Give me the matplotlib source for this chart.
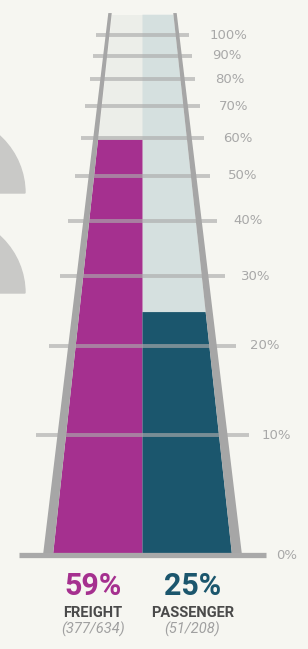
import numpy as np
import matplotlib.pyplot as plt
from matplotlib.patches import Polygon, Wedge

# data
modes = ['FREIGHT', 'PASSENGER']
hits = [377, 51]
totals = [634, 208]
bar_colors = ['#a5308f', '#1b566d']
tick_values = list(range(0, 101, 10))
tick_labels = ['%d%%' % t for t in tick_values]

pct = [100.0 * h / t for h, t in zip(hits, totals)]

# perspective: screen height goes like 1/(v + C)
C = 58.8


def fwd(v):
    return -1.0 / (np.asarray(v, dtype=float) + C)


def inv(u):
    return -1.0 / np.asarray(u, dtype=float) - C


def shrink(v):
    return C / (v + C)


CX = 142.5
RAIL_OUT, RAIL_IN = 99.5, 89.5
TIE = 125
TOP = 111.3
BG = '#f6f6f1'
W, H = 308, 649


def px(x, y):
    return x / W, 1 - y / H


fig = plt.figure(figsize=(W / 100, H / 100), dpi=100)
fig.patch.set_facecolor(BG)
ax = fig.add_axes([0, 0, 1, 1])
ax.set_facecolor(BG)
ax.set_yscale('function', functions=(fwd, inv))
ax.set_xlim(0, W)
ax.set_ylim(-6.0, 120.55)
ax.axis('off')

# grey shapes cut off at the left edge
for yc in [193, 293]:
    fig.patches.append(Wedge(((-52) / 100, (H - yc) / 100), 0.77, 0, 180,
                             transform=fig.dpi_scale_trans,
                             color='#c9c9c7', zorder=0))

# track background, two halves
s0, st = shrink(0), shrink(TOP)
ax.add_patch(Polygon([(CX - RAIL_IN * s0, 0), (CX, 0), (CX, TOP),
                      (CX - RAIL_IN * st, TOP)], closed=True,
                     color='#eceee9', lw=0, zorder=1))
ax.add_patch(Polygon([(CX, 0), (CX + RAIL_IN * s0, 0),
                      (CX + RAIL_IN * st, TOP), (CX, TOP)], closed=True,
                     color='#d5e0df', lw=0, zorder=1))

# bars
for i, (p, col) in enumerate(zip(pct, bar_colors)):
    sign = -1 if i == 0 else 1
    ax.add_patch(Polygon([(CX, 0), (CX + sign * RAIL_IN * s0, 0),
                          (CX + sign * RAIL_IN * shrink(p), p), (CX, p)],
                         closed=True, color=col, lw=0, zorder=2))

# ties
for v in tick_values[1:]:
    hw = TIE * shrink(v)
    ax.plot([CX - hw, CX + hw], [v, v], color='#ababab', alpha=0.65,
            lw=2.8, solid_capstyle='butt', zorder=3)
ax.plot([CX - 123.5, CX + 123.5], [0, 0], color='#a9a9a9', lw=3.8,
        solid_capstyle='butt', zorder=5)

# rails
for sign in [-1, 1]:
    ax.add_patch(Polygon([(CX + sign * RAIL_OUT * s0, 0),
                          (CX + sign * RAIL_IN * s0, 0),
                          (CX + sign * RAIL_IN * shrink(TOP + 1), TOP + 1),
                          (CX + sign * RAIL_OUT * shrink(TOP + 1), TOP + 1)],
                         closed=True, color='#a6a6a6', lw=0, zorder=4))

# tick labels
for v, lab in zip(tick_values, tick_labels):
    ax.text(CX + 28 + 106 * shrink(v), v, lab, ha='left', va='center',
            fontsize=9.5, color='#a8a8a8', family='DejaVu Sans')

narrow = ['Liberation Sans Narrow', 'Roboto', 'DejaVu Sans']
centers = [93, 192.5]
for m, h, t, p, col, x in zip(modes, hits, totals, pct, bar_colors, centers):
    fig.text(*px(x, 595), '%d%%' % round(p), ha='center', va='baseline',
             fontsize=22, fontweight='bold', color=col, family=narrow)
    fig.text(*px(x, 617), m, ha='center', va='baseline', fontsize=10.5,
             fontweight='bold', color='#4a4a4a', family=narrow)
    fig.text(*px(x, 634), '(%d/%d)' % (h, t), ha='center', va='baseline',
             fontsize=10.5, style='italic', color='#a0a0a0', family=narrow)

fig.savefig('out.png', dpi=100, facecolor=BG)
